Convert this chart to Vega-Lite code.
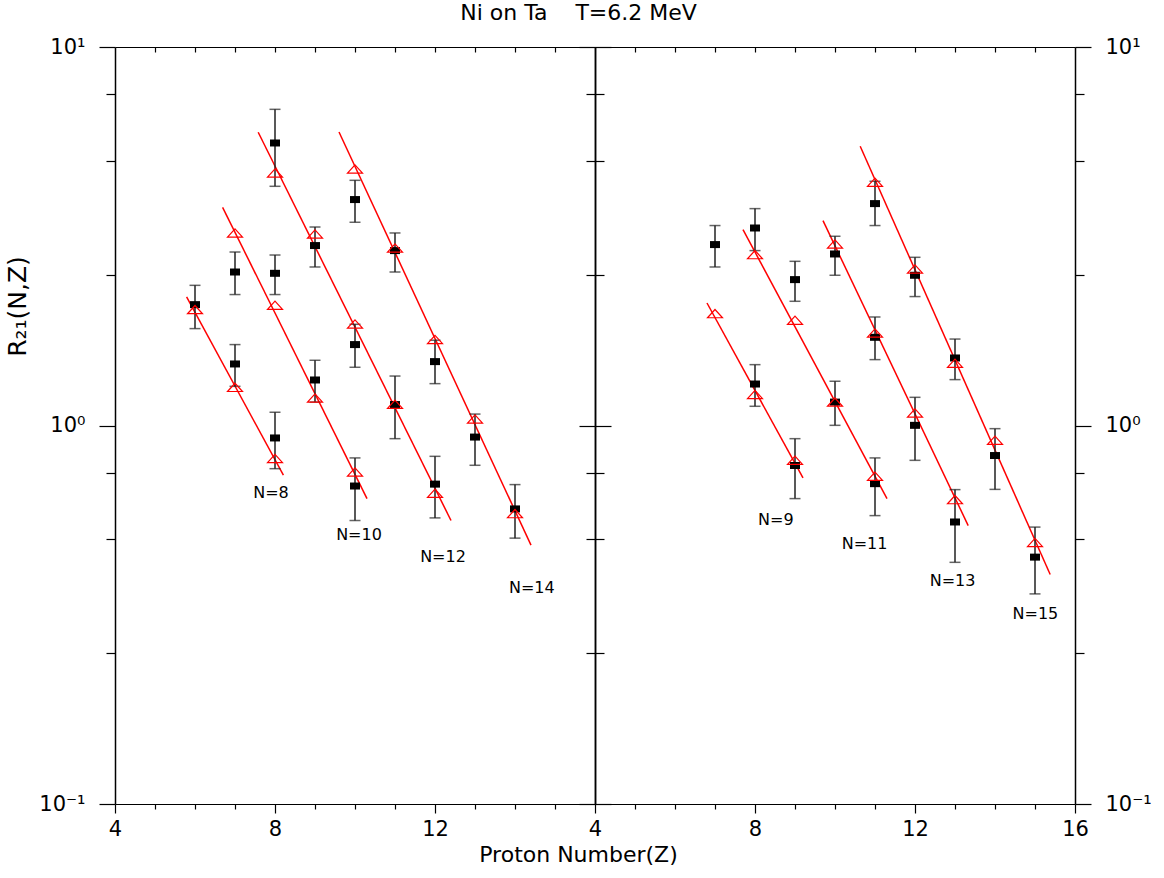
{
  "$schema": "https://vega.github.io/schema/vega-lite/v6.json",
  "padding": {"left": 5, "top": 2, "right": 5, "bottom": 5},
  "title": {"text": "Ni on Ta\u00a0\u00a0\u00a0 T=6.2 MeV", "fontSize": 22, "font": "DejaVu Sans", "fontWeight": "normal", "anchor": "middle", "offset": 11, "color": "#000"},
  "config": {
    "view": {"stroke": null},
    "font": "DejaVu Sans",
    "axis": {"grid": false, "domainColor": "#000", "tickColor": "#000", "labelColor": "#000", "labelFontSize": 21, "labelFont": "DejaVu Sans", "titleColor": "#000", "titleFontWeight": "normal", "titleFont": "DejaVu Sans", "labelFlush": false, "labelOverlap": false, "tickWidth": 1.2, "domainWidth": 1.5},
    "concat": {"spacing": 0}
  },
  "datasets": {
    "exp": [
      {"p":"L","N":8,"Z":6,"v":2.086,"lo":1.803,"hi":2.346},
      {"p":"L","N":8,"Z":7,"v":1.454,"lo":1.269,"hi":1.636},
      {"p":"L","N":8,"Z":8,"v":0.927,"lo":0.769,"hi":1.084},
      {"p":"L","N":10,"Z":7,"v":2.544,"lo":2.218,"hi":2.873},
      {"p":"L","N":10,"Z":8,"v":2.524,"lo":2.218,"hi":2.821},
      {"p":"L","N":10,"Z":9,"v":1.319,"lo":1.153,"hi":1.487},
      {"p":"L","N":10,"Z":10,"v":0.692,"lo":0.561,"hi":0.821},
      {"p":"L","N":12,"Z":8,"v":5.577,"lo":4.285,"hi":6.844},
      {"p":"L","N":12,"Z":9,"v":2.988,"lo":2.623,"hi":3.345},
      {"p":"L","N":12,"Z":10,"v":1.636,"lo":1.425,"hi":1.851},
      {"p":"L","N":12,"Z":11,"v":1.136,"lo":0.923,"hi":1.351},
      {"p":"L","N":12,"Z":12,"v":0.700,"lo":0.570,"hi":0.829},
      {"p":"L","N":14,"Z":10,"v":3.953,"lo":3.443,"hi":4.444},
      {"p":"L","N":14,"Z":11,"v":2.898,"lo":2.544,"hi":3.226},
      {"p":"L","N":14,"Z":12,"v":1.475,"lo":1.290,"hi":1.680},
      {"p":"L","N":14,"Z":13,"v":0.932,"lo":0.785,"hi":1.072},
      {"p":"L","N":14,"Z":14,"v":0.602,"lo":0.504,"hi":0.698},
      {"p":"R","N":9,"Z":7,"v":3.006,"lo":2.623,"hi":3.375},
      {"p":"R","N":9,"Z":8,"v":1.287,"lo":1.124,"hi":1.448},
      {"p":"R","N":9,"Z":9,"v":0.784,"lo":0.641,"hi":0.923},
      {"p":"R","N":11,"Z":8,"v":3.325,"lo":2.898,"hi":3.741},
      {"p":"R","N":11,"Z":9,"v":2.429,"lo":2.129,"hi":2.715},
      {"p":"R","N":11,"Z":10,"v":1.153,"lo":1.001,"hi":1.309},
      {"p":"R","N":11,"Z":11,"v":0.702,"lo":0.578,"hi":0.821},
      {"p":"R","N":13,"Z":10,"v":2.839,"lo":2.494,"hi":3.162},
      {"p":"R","N":13,"Z":11,"v":1.710,"lo":1.493,"hi":1.935},
      {"p":"R","N":13,"Z":12,"v":1.001,"lo":0.809,"hi":1.187},
      {"p":"R","N":13,"Z":13,"v":0.556,"lo":0.435,"hi":0.677},
      {"p":"R","N":15,"Z":11,"v":3.857,"lo":3.375,"hi":4.418},
      {"p":"R","N":15,"Z":12,"v":2.494,"lo":2.191,"hi":2.782},
      {"p":"R","N":15,"Z":13,"v":1.508,"lo":1.322,"hi":1.692},
      {"p":"R","N":15,"Z":14,"v":0.833,"lo":0.678,"hi":0.981},
      {"p":"R","N":15,"Z":15,"v":0.449,"lo":0.359,"hi":0.539}
    ],
    "calc": [
      {"p":"L","N":8,"Z":6,"v":2.024},{"p":"L","N":8,"Z":7,"v":1.261},{"p":"L","N":8,"Z":8,"v":0.818},
      {"p":"L","N":10,"Z":7,"v":3.226},{"p":"L","N":10,"Z":8,"v":2.078},{"p":"L","N":10,"Z":9,"v":1.182},{"p":"L","N":10,"Z":10,"v":0.754},
      {"p":"L","N":12,"Z":8,"v":4.647},{"p":"L","N":12,"Z":9,"v":3.206},{"p":"L","N":12,"Z":10,"v":1.854},{"p":"L","N":12,"Z":11,"v":1.138},{"p":"L","N":12,"Z":12,"v":0.662},
      {"p":"L","N":14,"Z":10,"v":4.762},{"p":"L","N":14,"Z":11,"v":2.944},{"p":"L","N":14,"Z":12,"v":1.687},{"p":"L","N":14,"Z":13,"v":1.040},{"p":"L","N":14,"Z":14,"v":0.585},
      {"p":"R","N":9,"Z":7,"v":1.975},{"p":"R","N":9,"Z":8,"v":1.207},{"p":"R","N":9,"Z":9,"v":0.809},
      {"p":"R","N":11,"Z":8,"v":2.828},{"p":"R","N":11,"Z":9,"v":1.897},{"p":"R","N":11,"Z":10,"v":1.153},{"p":"R","N":11,"Z":11,"v":0.734},
      {"p":"R","N":13,"Z":10,"v":3.017},{"p":"R","N":13,"Z":11,"v":1.755},{"p":"R","N":13,"Z":12,"v":1.079},{"p":"R","N":13,"Z":13,"v":0.637},
      {"p":"R","N":15,"Z":11,"v":4.391},{"p":"R","N":15,"Z":12,"v":2.591},{"p":"R","N":15,"Z":13,"v":1.460},{"p":"R","N":15,"Z":14,"v":0.914},{"p":"R","N":15,"Z":15,"v":0.491}
    ],
    "fit": [
      {"p":"L","N":8,"Z":5.79,"v":2.188},{"p":"L","N":8,"Z":8.21,"v":0.739},
      {"p":"L","N":10,"Z":6.69,"v":3.771},{"p":"L","N":10,"Z":10.3,"v":0.641},
      {"p":"L","N":12,"Z":7.58,"v":5.953},{"p":"L","N":12,"Z":12.4,"v":0.561},
      {"p":"L","N":14,"Z":9.6,"v":5.964},{"p":"L","N":14,"Z":14.4,"v":0.483},
      {"p":"R","N":9,"Z":6.8,"v":2.107},{"p":"R","N":9,"Z":9.2,"v":0.727},
      {"p":"R","N":11,"Z":7.7,"v":3.293},{"p":"R","N":11,"Z":11.3,"v":0.641},
      {"p":"R","N":13,"Z":9.7,"v":3.478},{"p":"R","N":13,"Z":13.33,"v":0.544},
      {"p":"R","N":15,"Z":10.63,"v":5.467},{"p":"R","N":15,"Z":15.38,"v":0.404}
    ],
    "labels": [
      {"p":"L","Z":7.9,"v":0.663,"t":"N=8"},
      {"p":"L","Z":10.1,"v":0.515,"t":"N=10"},
      {"p":"L","Z":12.2,"v":0.450,"t":"N=12"},
      {"p":"L","Z":14.42,"v":0.371,"t":"N=14"},
      {"p":"R","Z":8.52,"v":0.564,"t":"N=9"},
      {"p":"R","Z":10.74,"v":0.485,"t":"N=11"},
      {"p":"R","Z":12.94,"v":0.388,"t":"N=13"},
      {"p":"R","Z":15.01,"v":0.317,"t":"N=15"}
    ]
  },
  "vconcat": [
    {
      "title": {"text": "Proton Number(Z)", "orient": "bottom", "anchor": "middle", "fontSize": 22, "font": "DejaVu Sans", "fontWeight": "normal", "offset": 6, "color": "#000"},
      "bounds": "flush",
      "spacing": 0,
      "hconcat": [
        {
          "width": 480, "height": 757,
          "resolve": {"axis": {"x": "independent", "y": "independent"}},
          "layer": [
            {
              "data": {"name": "fit"}, "transform": [{"filter": "datum.p == 'L'"}],
              "mark": {"type": "line", "color": "#ff0000", "strokeWidth": 1.5},
              "encoding": {
                "x": {"field": "Z", "type": "quantitative", "scale": {"domain": [4, 16], "nice": false, "zero": false},
                      "axis": {"orient": "bottom", "values": [4, 8, 12], "tickSize": 9, "labelPadding": 5, "title": null, "format": "d", "domainWidth": 1.2}},
                "y": {"field": "v", "type": "quantitative", "scale": {"type": "log", "domain": [0.1, 10], "nice": false},
                      "axis": {"orient": "left", "values": [0.1, 1, 10], "tickSize": 16, "labelPadding": 14,
                               "labelExpr": "datum.value >= 5 ? '10¹' : datum.value >= 0.5 ? '10⁰' : '10⁻¹'",
                               "title": "R₂₁(N,Z)", "titleFontSize": 25, "titleY": 259, "titlePadding": 8}},
                "detail": {"field": "N"}
              }
            },
            {
              "data": {"name": "exp"}, "transform": [{"filter": "datum.p == 'L'"}],
              "mark": {"type": "rule", "color": "#222", "strokeWidth": 1.5},
              "encoding": {
                "x": {"field": "Z", "type": "quantitative", "scale": {"domain": [4, 16], "nice": false, "zero": false},
                      "axis": {"orient": "bottom", "values": [5, 6, 7, 9, 10, 11, 13, 14, 15], "tickSize": 5, "labels": false, "domain": false, "title": null}},
                "y": {"field": "lo", "type": "quantitative", "scale": {"type": "log", "domain": [0.1, 10], "nice": false},
                      "axis": {"orient": "left", "values": [0.25, 0.5, 0.75, 2.5, 5, 7.5], "tickSize": 9, "labels": false, "domain": false, "title": null}},
                "y2": {"field": "hi"}
              }
            },
            {
              "data": {"name": "exp"}, "transform": [{"filter": "datum.p == 'L'"}],
              "mark": {"type": "tick", "orient": "horizontal", "color": "#222", "size": 11, "thickness": 1.5},
              "encoding": {
                "x": {"field": "Z", "type": "quantitative", "scale": {"domain": [4, 16], "nice": false, "zero": false},
                      "axis": {"orient": "top", "values": [5, 6, 7, 8, 9, 10, 11, 12, 13, 14, 15], "tickSize": -5, "labels": false, "domain": true, "domainWidth": 1.2, "title": null}},
                "y": {"field": "lo", "type": "quantitative", "scale": {"type": "log", "domain": [0.1, 10], "nice": false},
                      "axis": {"orient": "right", "values": [0.1, 1, 10], "tickSize": -16, "labels": false, "domain": true, "title": null}}
              }
            },
            {
              "data": {"name": "exp"}, "transform": [{"filter": "datum.p == 'L'"}],
              "mark": {"type": "tick", "orient": "horizontal", "color": "#222", "size": 11, "thickness": 1.5},
              "encoding": {
                "x": {"field": "Z", "type": "quantitative", "scale": {"domain": [4, 16], "nice": false, "zero": false}, "axis": null},
                "y": {"field": "hi", "type": "quantitative", "scale": {"type": "log", "domain": [0.1, 10], "nice": false},
                      "axis": {"orient": "right", "values": [0.25, 0.5, 0.75, 2.5, 5, 7.5], "tickSize": -9, "labels": false, "domain": false, "title": null}}
              }
            },
            {
              "data": {"name": "exp"}, "transform": [{"filter": "datum.p == 'L'"}],
              "mark": {"type": "point", "shape": "M-1,-0.7L1,-0.7L1,0.7L-1,0.7Z", "filled": true, "color": "#000", "size": 100, "opacity": 1},
              "encoding": {
                "x": {"field": "Z", "type": "quantitative", "scale": {"domain": [4, 16], "nice": false, "zero": false}, "axis": null},
                "y": {"field": "v", "type": "quantitative", "scale": {"type": "log", "domain": [0.1, 10], "nice": false}, "axis": null}
              }
            },
            {
              "data": {"name": "calc"}, "transform": [{"filter": "datum.p == 'L'"}],
              "mark": {"type": "point", "shape": "M0,-0.55L1,0.55L-1,0.55Z", "filled": false, "stroke": "#ff0000", "strokeWidth": 1.2, "size": 225, "opacity": 1},
              "encoding": {
                "x": {"field": "Z", "type": "quantitative", "scale": {"domain": [4, 16], "nice": false, "zero": false}, "axis": null},
                "y": {"field": "v", "type": "quantitative", "scale": {"type": "log", "domain": [0.1, 10], "nice": false}, "axis": null}
              }
            },
            {
              "data": {"name": "labels"}, "transform": [{"filter": "datum.p == 'L'"}],
              "mark": {"type": "text", "font": "DejaVu Sans", "fontSize": 16, "color": "#000", "align": "center", "baseline": "middle"},
              "encoding": {
                "x": {"field": "Z", "type": "quantitative", "scale": {"domain": [4, 16], "nice": false, "zero": false}, "axis": null},
                "y": {"field": "v", "type": "quantitative", "scale": {"type": "log", "domain": [0.1, 10], "nice": false}, "axis": null},
                "text": {"field": "t"}
              }
            }
          ]
        },
        {
          "width": 480, "height": 757,
          "resolve": {"axis": {"x": "independent", "y": "independent"}},
          "layer": [
            {
              "data": {"name": "fit"}, "transform": [{"filter": "datum.p == 'R'"}],
              "mark": {"type": "line", "color": "#ff0000", "strokeWidth": 1.5},
              "encoding": {
                "x": {"field": "Z", "type": "quantitative", "scale": {"domain": [4, 16], "nice": false, "zero": false},
                      "axis": {"orient": "bottom", "values": [4, 8, 12, 16], "tickSize": 9, "labelPadding": 5, "title": null, "format": "d", "domainWidth": 1.2}},
                "y": {"field": "v", "type": "quantitative", "scale": {"type": "log", "domain": [0.1, 10], "nice": false},
                      "axis": {"orient": "left", "values": [0.1, 1, 10], "tickSize": -16, "labels": false, "domain": true, "title": null}},
                "detail": {"field": "N"}
              }
            },
            {
              "data": {"name": "exp"}, "transform": [{"filter": "datum.p == 'R'"}],
              "mark": {"type": "rule", "color": "#222", "strokeWidth": 1.5},
              "encoding": {
                "x": {"field": "Z", "type": "quantitative", "scale": {"domain": [4, 16], "nice": false, "zero": false},
                      "axis": {"orient": "bottom", "values": [5, 6, 7, 9, 10, 11, 13, 14, 15], "tickSize": 5, "labels": false, "domain": false, "title": null}},
                "y": {"field": "lo", "type": "quantitative", "scale": {"type": "log", "domain": [0.1, 10], "nice": false},
                      "axis": {"orient": "left", "values": [0.25, 0.5, 0.75, 2.5, 5, 7.5], "tickSize": -9, "labels": false, "domain": false, "title": null}},
                "y2": {"field": "hi"}
              }
            },
            {
              "data": {"name": "exp"}, "transform": [{"filter": "datum.p == 'R'"}],
              "mark": {"type": "tick", "orient": "horizontal", "color": "#222", "size": 11, "thickness": 1.5},
              "encoding": {
                "x": {"field": "Z", "type": "quantitative", "scale": {"domain": [4, 16], "nice": false, "zero": false},
                      "axis": {"orient": "top", "values": [5, 6, 7, 8, 9, 10, 11, 12, 13, 14, 15], "tickSize": -5, "labels": false, "domain": true, "domainWidth": 1.2, "title": null}},
                "y": {"field": "lo", "type": "quantitative", "scale": {"type": "log", "domain": [0.1, 10], "nice": false},
                      "axis": {"orient": "right", "values": [0.1, 1, 10], "tickSize": 16, "labelPadding": 14,
                               "labelExpr": "datum.value >= 5 ? '10¹' : datum.value >= 0.5 ? '10⁰' : '10⁻¹'", "domain": true, "title": null}}
              }
            },
            {
              "data": {"name": "exp"}, "transform": [{"filter": "datum.p == 'R'"}],
              "mark": {"type": "tick", "orient": "horizontal", "color": "#222", "size": 11, "thickness": 1.5},
              "encoding": {
                "x": {"field": "Z", "type": "quantitative", "scale": {"domain": [4, 16], "nice": false, "zero": false}, "axis": null},
                "y": {"field": "hi", "type": "quantitative", "scale": {"type": "log", "domain": [0.1, 10], "nice": false},
                      "axis": {"orient": "right", "values": [0.25, 0.5, 0.75, 2.5, 5, 7.5], "tickSize": 9, "labels": false, "domain": false, "title": null}}
              }
            },
            {
              "data": {"name": "exp"}, "transform": [{"filter": "datum.p == 'R'"}],
              "mark": {"type": "point", "shape": "M-1,-0.7L1,-0.7L1,0.7L-1,0.7Z", "filled": true, "color": "#000", "size": 100, "opacity": 1},
              "encoding": {
                "x": {"field": "Z", "type": "quantitative", "scale": {"domain": [4, 16], "nice": false, "zero": false}, "axis": null},
                "y": {"field": "v", "type": "quantitative", "scale": {"type": "log", "domain": [0.1, 10], "nice": false}, "axis": null}
              }
            },
            {
              "data": {"name": "calc"}, "transform": [{"filter": "datum.p == 'R'"}],
              "mark": {"type": "point", "shape": "M0,-0.55L1,0.55L-1,0.55Z", "filled": false, "stroke": "#ff0000", "strokeWidth": 1.2, "size": 225, "opacity": 1},
              "encoding": {
                "x": {"field": "Z", "type": "quantitative", "scale": {"domain": [4, 16], "nice": false, "zero": false}, "axis": null},
                "y": {"field": "v", "type": "quantitative", "scale": {"type": "log", "domain": [0.1, 10], "nice": false}, "axis": null}
              }
            },
            {
              "data": {"name": "labels"}, "transform": [{"filter": "datum.p == 'R'"}],
              "mark": {"type": "text", "font": "DejaVu Sans", "fontSize": 16, "color": "#000", "align": "center", "baseline": "middle"},
              "encoding": {
                "x": {"field": "Z", "type": "quantitative", "scale": {"domain": [4, 16], "nice": false, "zero": false}, "axis": null},
                "y": {"field": "v", "type": "quantitative", "scale": {"type": "log", "domain": [0.1, 10], "nice": false}, "axis": null},
                "text": {"field": "t"}
              }
            }
          ]
        }
      ]
    }
  ]
}
